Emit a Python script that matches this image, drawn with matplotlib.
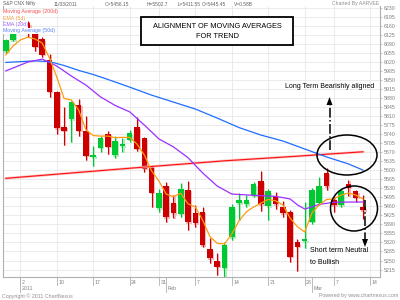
import matplotlib
matplotlib.use('Agg')
import matplotlib.pyplot as plt
from matplotlib.patches import Rectangle, Ellipse, Polygon
from matplotlib.lines import Line2D

plt.rcParams['font.family'] = ['Liberation Sans', 'DejaVu Sans']

# S&P CNX Nifty daily candles, 30 Dec 2010 .. 11 Mar 2011
dates = ['30 Dec', '31 Dec', '03 Jan', '04 Jan', '05 Jan', '06 Jan', '07 Jan', '10 Jan', '11 Jan', '12 Jan',
         '13 Jan', '14 Jan', '17 Jan', '18 Jan', '19 Jan', '20 Jan', '21 Jan', '24 Jan', '25 Jan', '27 Jan',
         '28 Jan', '31 Jan', '01 Feb', '02 Feb', '03 Feb', '04 Feb', '07 Feb', '08 Feb', '09 Feb', '10 Feb',
         '11 Feb', '14 Feb', '15 Feb', '16 Feb', '17 Feb', '18 Feb', '21 Feb', '22 Feb', '23 Feb', '24 Feb',
         '25 Feb', '28 Feb', '01 Mar', '03 Mar', '04 Mar', '07 Mar', '08 Mar', '09 Mar', '10 Mar', '11 Mar']
opens = [6063, 6106, 6177, 6172, 6134, 6110, 6028, 5905, 5769, 5799, 5854, 5754, 5652, 5687, 5743, 5658, 5694,
         5718, 5767, 5724, 5617, 5453, 5540, 5475, 5431, 5524, 5436, 5440, 5294, 5250, 5220, 5340, 5472, 5468,
         5504, 5558, 5460, 5502, 5456, 5440, 5322, 5325, 5400, 5474, 5591, 5486, 5464, 5546, 5520, 5456.15]
highs = [6110, 6147, 6178, 6181, 6141, 6116, 6051, 5908, 5847, 5870, 5877, 5810, 5694, 5735, 5752, 5733, 5725,
         5758, 5806, 5730, 5620, 5527, 5556, 5505, 5552, 5558, 5465, 5457, 5339, 5279, 5320, 5470, 5511, 5504,
         5556, 5598, 5527, 5515, 5480, 5445, 5335, 5477, 5530, 5575, 5609, 5500, 5530, 5564, 5525, 5502.7]
lows = [6055, 6103, 6147, 6119, 6062, 6040, 5885, 5741, 5698, 5711, 5734, 5640, 5617, 5670, 5664, 5648, 5672,
        5709, 5677, 5593, 5459, 5440, 5401, 5416, 5420, 5367, 5381, 5303, 5240, 5194, 5178, 5330, 5408, 5459,
        5498, 5443, 5409, 5450, 5420, 5246, 5208, 5300, 5390, 5465, 5522, 5440, 5458, 5500, 5477, 5411.55]
closes = [6106, 6134, 6157, 6146, 6080, 6048, 5905, 5764, 5754, 5866, 5754, 5656, 5660, 5727, 5692, 5715, 5701,
          5744, 5684, 5606, 5513, 5511, 5418, 5433, 5528, 5398, 5394, 5310, 5259, 5226, 5310, 5456, 5485, 5485,
          5547, 5468, 5518, 5469, 5433, 5265, 5303, 5333, 5522, 5539, 5538, 5464, 5520, 5532, 5494, 5445.45]

# moving averages
ema5 = [6048, 6083, 6106, 6117, 6110, 6094, 6036, 5962, 5879, 5873, 5834, 5757, 5735, 5733, 5733, 5727, 5728,
        5728, 5702, 5660, 5598, 5559, 5508, 5498, 5511, 5470, 5458, 5407, 5343, 5317, 5314, 5353, 5404, 5439,
        5458, 5473, 5487, 5482, 5466, 5415, 5381, 5361, 5435, 5466, 5487, 5489, 5504, 5512, 5504, 5489]
ema20_idx = [0, 3, 5, 7, 9, 11, 13, 15, 17, 19, 21, 23, 25, 27, 29, 31, 34, 37, 39, 40, 41, 42, 43, 45, 47, 49]
ema20 = [5986, 6020, 6032, 6005, 5966, 5931, 5885, 5852, 5827, 5776, 5722, 5691, 5649, 5590, 5539, 5508, 5503,
         5499, 5489, 5466, 5450, 5458, 5468, 5476, 5477, 5477]
ma50_idx = [0, 4, 6, 8, 10, 12, 14, 17, 20, 23, 26, 29, 32, 35, 38, 41, 44, 47, 49]
ma50 = [6019, 6025, 6022, 6007, 5988, 5972, 5953, 5923, 5892, 5865, 5838, 5803, 5766, 5737, 5714, 5683, 5652,
        5625, 5601]
ma200_idx = [0, 10, 20, 30, 40, 49]
ma200 = [5569, 5592, 5615, 5637, 5655, 5672]

day_idx = [2, 7, 12, 17, 21, 26, 31, 36, 41, 45, 50]
day_labels = ['2', '10', '17', '24', '31', '7', '14', '21', '28', '7', '14']
month_idx = [2, 22, 42]
month_labels = ['2011', 'Feb', 'Mar']
price_ticks = list(range(5215, 6231, 35))

W, H = 400, 300
def fx(px):
    return px / W
def fy(py):
    return 1 - py / H

fig = plt.figure(figsize=(4, 3), dpi=100)
ax = fig.add_axes([fx(3.3), fy(277), (380 - 3.3) / W, (277 - 6) / H])
ax.set_xlim(-0.34, 51.33)
ax.set_ylim(5186, 6238)

red, green = '#CC0000', '#00C832'
pink, lgreen = '#F4B8B8', '#B4EAC0'
bw = 0.76
for i in range(len(opens)):
    o, h, l, c = opens[i], highs[i], lows[i], closes[i]
    up = c >= o
    col = green if up else red
    lcol = lgreen if up else pink
    lo, hi = min(o, c), max(o, c)
    # soft shadow behind candle
    ax.plot([i + 0.15, i + 0.15], [l - 4, h - 4], color=lcol, lw=1.4, zorder=2, solid_capstyle='butt')
    ax.add_patch(Rectangle((i - bw / 2 + 0.15, lo - 6), bw, max(hi - lo, 6), fc=lcol, ec='none', zorder=2))
    ax.plot([i, i], [l, h], color=col, lw=0.8, zorder=3, solid_capstyle='butt')
    ax.add_patch(Rectangle((i - bw / 2, lo), bw, max(hi - lo, 4), fc=col, ec='none', zorder=3))

ax.plot(ma200_idx, ma200, color='#F8C0C0', lw=1.8, zorder=4)
ax.plot(ma200_idx, ma200, color='#FF1010', lw=0.8, zorder=4)
ax.plot(ma50_idx, ma50, color='#1E6EFF', lw=0.9, zorder=4)
ax.plot(ema20_idx, ema20, color='#9B30FF', lw=0.9, zorder=4)
ax.plot(range(len(ema5)), ema5, color='#FF9A10', lw=0.9, zorder=5)

ax.yaxis.tick_right()
ax.set_yticks(price_ticks)
ax.set_yticklabels([str(p) for p in price_ticks], fontsize=3.8, color='#808080')
ax.tick_params(axis='y', length=1.5, width=0.5, color='#AAAAAA', pad=1.2)
ax.set_xticks(day_idx)
ax.set_xticklabels([])
ax.tick_params(axis='x', length=0)
ax.grid(True, color='#E8E8E8', lw=0.6, zorder=0)
ax.set_axisbelow(True)
for s in ['left', 'bottom', 'right']:
    ax.spines[s].set_color('#B0B0B0')
    ax.spines[s].set_linewidth(0.8)
ax.spines['top'].set_visible(False)

tr = ax.get_xaxis_transform()
px_y = 1 / 271
for i, lab in zip(day_idx, day_labels):
    ax.plot([i, i], [0, -8 * px_y], color='#B0B0B0', lw=0.6, transform=tr, clip_on=False)
    ax.text(i + 0.2, -5 * px_y, lab, transform=tr, fontsize=3.8, color='#808080', ha='left', va='center')
for i, lab in zip(month_idx, month_labels):
    ax.plot([i, i], [0, -15 * px_y], color='#B0B0B0', lw=0.6, transform=tr, clip_on=False)
    ax.text(i + 0.2, -12 * px_y, lab, transform=tr, fontsize=3.8, color='#808080', ha='left', va='center')

# header / footer
hdr = [(3, 'S&P CNX Nifty'), (54, '11/03/2011'), (105, 'O=5456.15'), (147, 'H=5502.7'),
       (178, 'L=5411.55'), (202, 'C=5445.45'), (234, 'V=0.58B')]
for x, t in hdr:
    fig.text(fx(x), fy(4), t, fontsize=3.5, color='#606060', ha='left', va='center')
fig.text(fx(379), fy(4), 'Charted By AARVEE', fontsize=3.7, color='#909090', ha='right', va='center')
fig.text(fx(2), fy(296), 'Copyright \u00a9 2011 ChartNexus', fontsize=3.8, color='#909090', ha='left', va='center')
fig.text(fx(398), fy(296), 'Powered by www.chartnexus.com', fontsize=3.8, color='#909090', ha='right', va='center')

# legend
leg = [('Moving Average (200d)', '#F05050'), ('EMA (5d)', '#F09A40'), ('EMA (20d)', '#9A60F0'),
       ('Moving Average (50d)', '#5A80F0')]
for k, (t, c) in enumerate(leg):
    fig.text(fx(3), fy(12 + k * 6.3), t, fontsize=3.8, color=c, ha='left', va='center',
             bbox=dict(fc='white', ec='none', pad=0.3))

# title box
fig.add_artist(Rectangle((fx(140.7), fy(44.5)), (293 - 140.7) / W, (44.5 - 17.3) / H,
                         transform=fig.transFigure, fc='white', ec='black', lw=1.3))
fig.text(fx(217), fy(26), 'ALIGNMENT OF MOVING AVERAGES', fontsize=5.3, ha='center', va='center')
fig.text(fx(217), fy(36), 'FOR TREND', fontsize=5.3, ha='center', va='center')

# annotations
fig.add_artist(Ellipse((fx(347), fy(155)), 60 / W, 40 / H, transform=fig.transFigure,
                       fill=False, ec='black', lw=1.1))
fig.add_artist(Ellipse((fx(354), fy(208.5)), 47 / W, 45 / H, transform=fig.transFigure,
                       fill=False, ec='black', lw=1.1))
fig.add_artist(Line2D([fx(329.5), fx(329.5)], [fy(150), fy(104)], transform=fig.transFigure,
                      color='black', lw=1.1, ls='-.'))
fig.add_artist(Polygon([(fx(329.5), fy(97)), (fx(326.5), fy(105)), (fx(332.5), fy(105))],
                       closed=True, transform=fig.transFigure, fc='black', ec='none'))
fig.add_artist(Line2D([fx(365), fx(365)], [fy(200), fy(240)], transform=fig.transFigure,
                      color='black', lw=1.1, ls='-.'))
fig.add_artist(Polygon([(fx(365), fy(247)), (fx(362), fy(239)), (fx(368), fy(239))],
                       closed=True, transform=fig.transFigure, fc='black', ec='none'))
fig.text(fx(285), fy(87), 'Long Term Bearishly aligned', fontsize=5, ha='left', va='center')
fig.text(fx(310), fy(251), 'Short term Neutral', fontsize=5, ha='left', va='center')
fig.text(fx(310), fy(262), 'to Bullish', fontsize=5, ha='left', va='center')

fig.savefig('out.png', dpi=100)
